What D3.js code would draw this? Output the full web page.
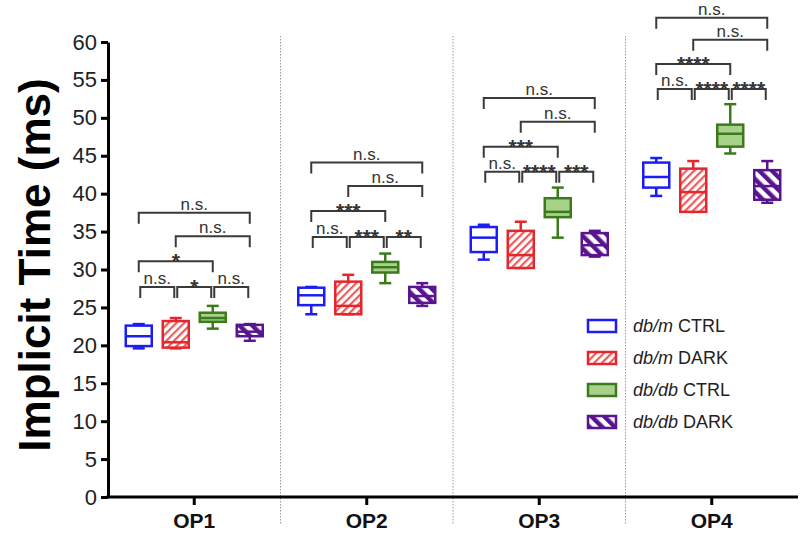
<!DOCTYPE html>
<html>
<head>
<meta charset="utf-8">
<script src="https://cdn.jsdelivr.net/npm/d3@7"></script>
<style>
  body { margin: 0; background: #fff; }
  svg { font-family: "Liberation Sans", Arial, sans-serif; }
</style>
</head>
<body>
<svg id="chart" width="800" height="540"></svg>
<script>
// ---- data ----
const categories = ["OP1", "OP2", "OP3", "OP4"];
const series = ["dbmCtrl", "dbmDark", "dbdbCtrl", "dbdbDark"];
const legendItalic = ["db/m", "db/m", "db/db", "db/db"];
const legendRest = [" CTRL", " DARK", " CTRL", " DARK"];

// [min, q1, median, q3, max] for OP1..OP4
const dbmCtrl  = [[19.6, 19.9, 21.2, 22.6, 22.8], [24.1, 25.3, 26.6, 27.6, 27.7], [31.3, 32.3, 34.2, 35.6, 35.9], [39.7, 40.8, 42.2, 44.1, 44.7]];
const dbmDark  = [[19.6, 19.7, 20.4, 23.2, 23.6], [24.1, 24.1, 25.2, 28.4, 29.3], [30.2, 30.2, 31.9, 35.1, 36.3], [37.6, 37.6, 40.2, 43.3, 44.3]];
const dbdbCtrl = [[22.2, 23.1, 23.6, 24.3, 25.2], [28.2, 29.6, 30.3, 31.0, 32.1], [34.2, 36.9, 37.6, 39.4, 40.8], [45.3, 46.2, 47.9, 49.1, 51.8]];
const dbdbDark = [[20.6, 21.2, 21.8, 22.7, 22.8], [25.2, 25.6, 26.5, 27.7, 28.2], [31.7, 31.9, 33.2, 34.8, 35.1], [38.8, 39.2, 41.0, 43.1, 44.3]];

const yTicks = [0, 5, 10, 15, 20, 25, 30, 35, 40, 45, 50, 55, 60];

// significance brackets: pairs of series, row, label per category
const sigPairs = [[0, 1], [1, 2], [2, 3], [0, 2], [1, 3], [0, 3]];
const sigRows = [0, 0, 0, 1, 2, 3];
const sigLevels = [[27.7, 31.1, 34.4, 37.5], [34.3, 37.7, 41.0, 44.1], [42.9, 46.2, 49.5, 52.6], [53.8, 57.1, 60.3, 63.2]];
const sigLabels = [
  ["n.s.", "*", "n.s.", "*", "n.s.", "n.s."],
  ["n.s.", "***", "**", "***", "n.s.", "n.s."],
  ["n.s.", "****", "***", "***", "n.s.", "n.s."],
  ["n.s.", "****", "****", "****", "n.s.", "n.s."]
];

const stats = { dbmCtrl, dbmDark, dbdbCtrl, dbdbDark };
const strokes = { dbmCtrl: "#1c1cf5", dbmDark: "#e5262b", dbdbCtrl: "#3b7b1c", dbdbDark: "#5a1490" };
const fills = { dbmCtrl: "#ffffff", dbmDark: "url(#hatchRed)", dbdbCtrl: "#a8d28c", dbdbDark: "url(#hatchPurple)" };

// ---- layout ----
const svg = d3.select("#chart");
const yScale = d3.scaleLinear().domain([0, 60]).range([497, 42]);
const xScale = d3.scaleBand().domain(categories).range([108, 798]);
const xSub = d3.scaleBand().domain(series).range([-74, 74]);
const boxW = 26, capW = 12;
const cx = (c, s) => xScale(c) + xScale.bandwidth() / 2 + xSub(s) + xSub.bandwidth() / 2;

// patterns
const defs = svg.append("defs");
const pr = defs.append("pattern").attr("id", "hatchRed").attr("patternUnits", "userSpaceOnUse")
  .attr("width", 5.5).attr("height", 5.5).attr("patternTransform", "rotate(45)");
pr.append("rect").attr("width", 5.5).attr("height", 5.5).attr("fill", "#fff");
pr.append("rect").attr("width", 2.2).attr("height", 5.5).attr("fill", "#ec5a5d");
const pp = defs.append("pattern").attr("id", "hatchPurple").attr("patternUnits", "userSpaceOnUse")
  .attr("width", 9).attr("height", 9).attr("patternTransform", "rotate(-45)");
pp.append("rect").attr("width", 9).attr("height", 9).attr("fill", "#fff");
pp.append("rect").attr("width", 4.5).attr("height", 9).attr("fill", "#5a1490");

// separators
svg.append("g").selectAll("line")
  .data(categories.slice(1))
  .join("line")
  .attr("x1", d => xScale(d)).attr("x2", d => xScale(d))
  .attr("y1", 36).attr("y2", 524)
  .attr("stroke", "#9a9a9a").attr("stroke-width", 1).attr("stroke-dasharray", "1.5,1.5");

// axes
const yAxis = svg.append("g")
  .attr("transform", "translate(108,0)")
  .call(d3.axisLeft(yScale).tickValues(yTicks).tickSize(7).tickSizeOuter(0).tickPadding(4));
const xAxis = svg.append("g")
  .attr("transform", "translate(0,497)")
  .call(d3.axisBottom(xScale).tickSize(8).tickSizeOuter(0).tickPadding(8));
[yAxis, xAxis].forEach(a => {
  a.select(".domain").attr("stroke", "#000").attr("stroke-width", 3);
  a.selectAll(".tick line").attr("stroke", "#000").attr("stroke-width", 3);
});
yAxis.selectAll(".tick text").attr("font-size", 22).attr("fill", "#222");
xAxis.selectAll(".tick text").attr("font-size", 21).attr("font-weight", "bold").attr("fill", "#111");
// extend x domain under the y axis
xAxis.select(".domain").attr("d", "M106.5,0H798");

// y title
svg.append("text")
  .attr("transform", "translate(50,265) rotate(-90)")
  .attr("text-anchor", "middle")
  .attr("font-size", 44).attr("font-weight", "bold").attr("fill", "#000")
  .text("Implicit Time (ms)");

// boxes
const boxData = [];
categories.forEach((c, ci) => series.forEach(s => {
  const [mn, q1, md, q3, mx] = stats[s][ci];
  boxData.push({ c, s, mn, q1, md, q3, mx });
}));

const boxes = svg.append("g").selectAll("g").data(boxData).join("g")
  .attr("stroke", d => strokes[d.s]).attr("stroke-width", 2.5).attr("fill", "none");
boxes.append("line")
  .attr("x1", d => cx(d.c, d.s)).attr("x2", d => cx(d.c, d.s))
  .attr("y1", d => yScale(d.mx)).attr("y2", d => yScale(d.q3));
boxes.append("line")
  .attr("x1", d => cx(d.c, d.s)).attr("x2", d => cx(d.c, d.s))
  .attr("y1", d => yScale(d.q1)).attr("y2", d => yScale(d.mn));
boxes.append("line")
  .attr("x1", d => cx(d.c, d.s) - capW / 2).attr("x2", d => cx(d.c, d.s) + capW / 2)
  .attr("y1", d => yScale(d.mx)).attr("y2", d => yScale(d.mx));
boxes.append("line")
  .attr("x1", d => cx(d.c, d.s) - capW / 2).attr("x2", d => cx(d.c, d.s) + capW / 2)
  .attr("y1", d => yScale(d.mn)).attr("y2", d => yScale(d.mn));
boxes.append("rect")
  .attr("x", d => cx(d.c, d.s) - boxW / 2).attr("width", boxW)
  .attr("y", d => yScale(d.q3)).attr("height", d => yScale(d.q1) - yScale(d.q3))
  .attr("fill", d => fills[d.s]);
boxes.append("line")
  .attr("x1", d => cx(d.c, d.s) - boxW / 2).attr("x2", d => cx(d.c, d.s) + boxW / 2)
  .attr("y1", d => yScale(d.md)).attr("y2", d => yScale(d.md));

// significance brackets
const sigData = [];
categories.forEach((c, ci) => sigPairs.forEach((p, pi) => {
  sigData.push({ c, a: series[p[0]], b: series[p[1]], row: sigRows[pi], level: sigLevels[ci][sigRows[pi]], label: sigLabels[ci][pi] });
}));
const legLen = 11;
const sig = svg.append("g").selectAll("g").data(sigData).join("g");
sig.append("path")
  .attr("fill", "none").attr("stroke", "#3a3a3a").attr("stroke-width", 2)
  .attr("d", d => {
    const inset = d.row === 0 ? 1.5 : 0;
    const x1 = cx(d.c, d.a) + inset, x2 = cx(d.c, d.b) - inset, y = yScale(d.level);
    return `M${x1},${y + legLen}V${y}H${x2}V${y + legLen}`;
  });
sig.append("text")
  .attr("x", d => (cx(d.c, d.a) + cx(d.c, d.b)) / 2)
  .attr("y", d => yScale(d.level) + (d.label === "n.s." ? -3 : 7))
  .attr("text-anchor", "middle")
  .attr("font-size", d => d.label === "n.s." ? 17 : 21)
  .attr("font-weight", d => d.label === "n.s." ? "normal" : "bold")
  .attr("fill", "#333")
  .text(d => d.label);

// legend
const legend = svg.append("g").selectAll("g").data(series).join("g")
  .attr("transform", (d, i) => `translate(588,${320 + i * 32})`);
legend.append("rect")
  .attr("width", 28).attr("height", 12)
  .attr("fill", d => fills[d]).attr("stroke", d => strokes[d]).attr("stroke-width", 2.5);
const lt = legend.append("text").attr("x", 45).attr("y", 12)
  .attr("font-size", 18).attr("fill", "#222");
lt.append("tspan").attr("font-style", "italic").text((d, i) => legendItalic[i]);
lt.append("tspan").text((d, i) => legendRest[i]);
</script>
</body>
</html>
